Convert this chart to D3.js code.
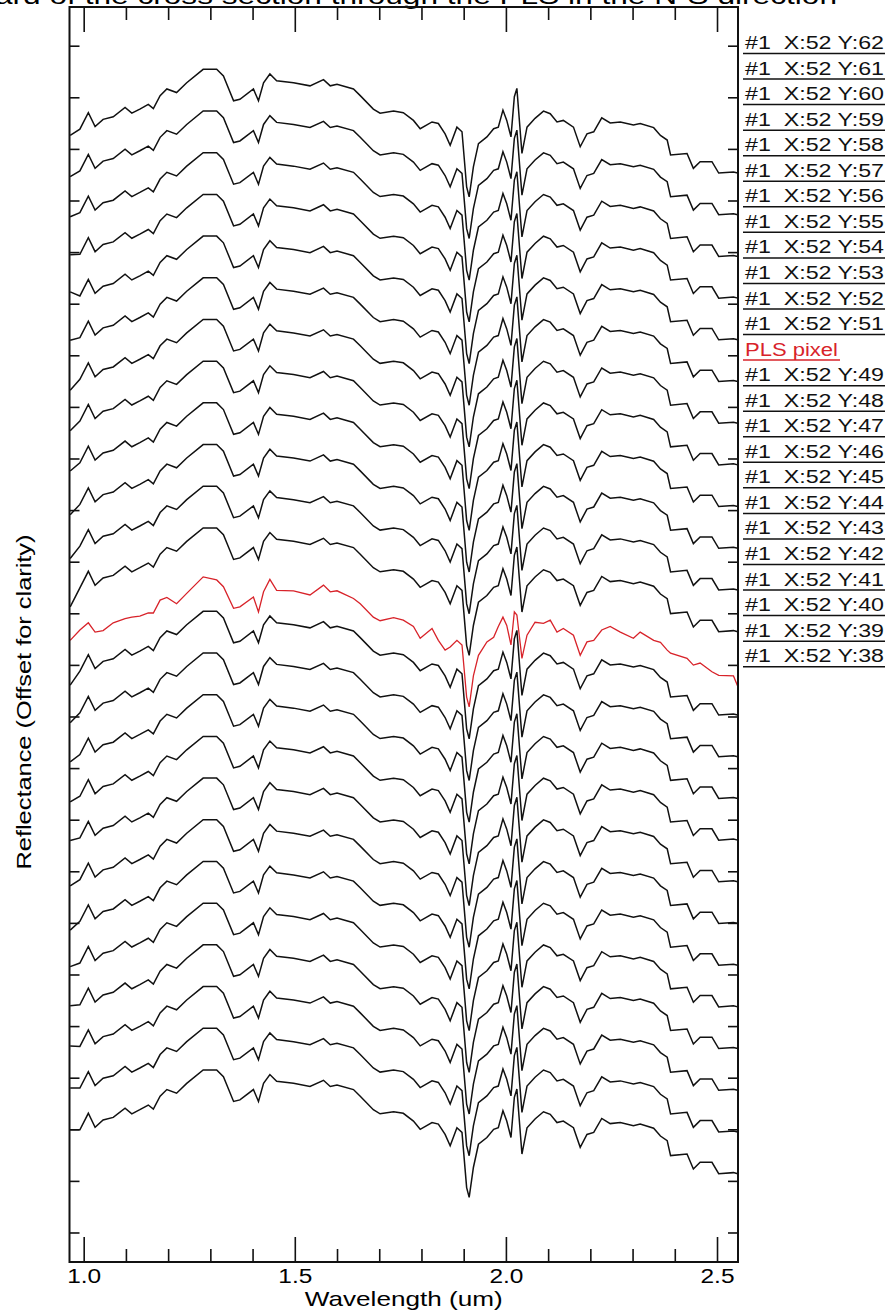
<!DOCTYPE html>
<html>
<head>
<meta charset="utf-8">
<script src="https://cdn.jsdelivr.net/npm/d3@7"></script>
<style>
  body { margin: 0; background: #fff; }
  text { font-family: "Liberation Sans", Arial, sans-serif; fill: #000; }
</style>
</head>
<body>
<div id="viz"></div>
<script>
// band centres (um) of the plotted spectra
var bands = [0.968, 0.991, 1.011, 1.027, 1.046, 1.070, 1.098, 1.114, 1.133, 1.153,
  1.165, 1.181, 1.197, 1.220, 1.244, 1.283, 1.315, 1.331, 1.355, 1.370,
  1.402, 1.414, 1.426, 1.441, 1.457, 1.497, 1.536, 1.568, 1.584, 1.600,
  1.639, 1.655, 1.686, 1.702, 1.734, 1.757, 1.781, 1.797, 1.825, 1.840,
  1.856, 1.868, 1.884, 1.896, 1.907, 1.913, 1.923, 1.935, 1.955, 1.971,
  1.982, 1.993, 2.002, 2.012, 2.020, 2.026, 2.038, 2.050, 2.069, 2.089,
  2.105, 2.121, 2.136, 2.160, 2.176, 2.192, 2.208, 2.227, 2.247, 2.271,
  2.302, 2.318, 2.350, 2.366, 2.382, 2.390, 2.429, 2.444, 2.460, 2.488,
  2.504, 2.539, 2.549];

// reflectance of the neighbouring pixels (before offset)
var baseSpectrum = [0.286, 0.299, 0.331, 0.304, 0.318, 0.323, 0.341, 0.330, 0.338, 0.347,
  0.339, 0.364, 0.377, 0.370, 0.389, 0.415, 0.415, 0.402, 0.354, 0.357,
  0.377, 0.354, 0.389, 0.406, 0.393, 0.389, 0.383, 0.395, 0.383, 0.386,
  0.377, 0.364, 0.338, 0.330, 0.334, 0.331, 0.316, 0.300, 0.313, 0.310,
  0.290, 0.268, 0.303, 0.294, 0.187, 0.168, 0.226, 0.271, 0.284, 0.300,
  0.303, 0.336, 0.316, 0.284, 0.362, 0.378, 0.252, 0.303, 0.320, 0.334,
  0.329, 0.313, 0.316, 0.303, 0.265, 0.290, 0.294, 0.321, 0.311, 0.313,
  0.307, 0.310, 0.302, 0.287, 0.278, 0.249, 0.252, 0.223, 0.236, 0.236,
  0.214, 0.216, 0.214];

// reflectance of the PLS pixel (before offset)
var plsSpectrum = [0.278, 0.298, 0.312, 0.294, 0.297, 0.312, 0.320, 0.323, 0.325, 0.331,
  0.331, 0.356, 0.361, 0.349, 0.369, 0.401, 0.395, 0.382, 0.340, 0.343,
  0.362, 0.333, 0.372, 0.396, 0.375, 0.374, 0.366, 0.385, 0.372, 0.374,
  0.359, 0.349, 0.323, 0.316, 0.322, 0.317, 0.305, 0.282, 0.301, 0.278,
  0.259, 0.265, 0.278, 0.269, 0.168, 0.149, 0.209, 0.249, 0.275, 0.284,
  0.305, 0.323, 0.307, 0.269, 0.333, 0.327, 0.243, 0.288, 0.313, 0.311,
  0.317, 0.294, 0.301, 0.288, 0.249, 0.275, 0.278, 0.298, 0.305, 0.294,
  0.282, 0.294, 0.278, 0.274, 0.259, 0.253, 0.243, 0.230, 0.234, 0.217,
  0.210, 0.209, 0.189];

// legend labels, top to bottom (same order as the stacked curves)
var pixelLabels = ["#1  X:52 Y:62", "#1  X:52 Y:61", "#1  X:52 Y:60", "#1  X:52 Y:59",
  "#1  X:52 Y:58", "#1  X:52 Y:57", "#1  X:52 Y:56", "#1  X:52 Y:55", "#1  X:52 Y:54",
  "#1  X:52 Y:53", "#1  X:52 Y:52", "#1  X:52 Y:51", "PLS pixel", "#1  X:52 Y:49",
  "#1  X:52 Y:48", "#1  X:52 Y:47", "#1  X:52 Y:46", "#1  X:52 Y:45", "#1  X:52 Y:44",
  "#1  X:52 Y:43", "#1  X:52 Y:42", "#1  X:52 Y:41", "#1  X:52 Y:40", "#1  X:52 Y:39",
  "#1  X:52 Y:38"];

// first band value of each black curve (they differ a bit at the left edge)
var firstBand = [0.287, 0.288, 0.291, 0.298, 0.307, 0.294, 0.278, 0.280, 0.283, 0.279,
  0.275, 0.262, null, 0.272, 0.280, 0.285, 0.288, 0.294, 0.287, 0.282,
  0.292, 0.297, 0.300, 0.299, 0.299];

var plsIndex = 12;
var offsetStep = 0.0808;

var majorTicks = [1.0, 1.5, 2.0, 2.5];
var minorTicks = [1.1, 1.2, 1.3, 1.4, 1.6, 1.7, 1.8, 1.9, 2.1, 2.2, 2.3, 2.4];
var yTicks = d3.range(1, 25).map(function(k){ return k / 10; });

var width = 887, height = 1314;
var plot = {left: 69.5, right: 738, top: 7, bottom: 1262};

var svg = d3.select("#viz").append("svg")
  .attr("width", width)
  .attr("height", height);

var x = d3.scaleLinear()
  .domain([0.9664, 2.5497])
  .range([plot.left, plot.right]);

var y = d3.scaleLinear()
  .domain([0.0428, 2.475])
  .range([plot.bottom, plot.top]);

// stack the spectra, top curve gets the largest offset
var curves = pixelLabels.map(function(label, i){
  var offset = (pixelLabels.length - 1 - i) * offsetStep;
  var pls = i === plsIndex;
  var src = pls ? plsSpectrum : baseSpectrum;
  return {
    label: label,
    pls: pls,
    values: bands.map(function(w, j){
      var r = (j === 0 && !pls) ? firstBand[i] : src[j];
      return {w: w, r: r + offset};
    })
  };
});

// title, clipped at the top of the page
svg.append("text")
  .attr("x", -5)
  .attr("y", 4)
  .attr("textLength", 842)
  .attr("lengthAdjust", "spacingAndGlyphs")
  .style("font-size", "24px")
  .text("ard of the cross section through the PLS in the N-S direction");

svg.append("clipPath").attr("id", "clip")
  .append("rect")
  .attr("x", plot.left).attr("y", plot.top)
  .attr("width", plot.right - plot.left)
  .attr("height", plot.bottom - plot.top);

var line = d3.line()
  .x(function(d){ return x(d.w); })
  .y(function(d){ return y(d.r); });

var order = curves.filter(function(c){ return !c.pls; })
  .concat(curves.filter(function(c){ return c.pls; }));

svg.append("g").attr("clip-path", "url(#clip)")
  .selectAll("path")
  .data(order)
  .enter()
.append("path")
  .attr("d", function(d){ return line(d.values); })
  .attr("fill", "none")
  .attr("stroke", function(d){ return d.pls ? "#d8232a" : "#111"; })
  .attr("stroke-width", function(d){ return d.pls ? 1.3 : 1.5; })
  .attr("stroke-linejoin", "miter");

// axes, all ticks point inward
function clean(g){
  g.select(".domain").remove();
  g.selectAll("line").attr("stroke", "#111").attr("stroke-width", 1.6);
}

svg.append("g")
  .attr("transform", "translate(0," + plot.bottom + ")")
  .call(d3.axisBottom(x).tickValues(majorTicks).tickSize(-25).tickPadding(7)
    .tickFormat(d3.format(".1f")))
  .call(clean)
  .selectAll("text")
  .style("font-size", "20px")
  .attr("textLength", 34)
  .attr("lengthAdjust", "spacingAndGlyphs");

svg.append("g")
  .attr("transform", "translate(0," + plot.bottom + ")")
  .call(d3.axisBottom(x).tickValues(minorTicks).tickSize(-13).tickFormat(""))
  .call(clean);

svg.append("g")
  .attr("transform", "translate(0," + plot.top + ")")
  .call(d3.axisTop(x).tickValues(majorTicks).tickSize(-25).tickFormat(""))
  .call(clean);

svg.append("g")
  .attr("transform", "translate(0," + plot.top + ")")
  .call(d3.axisTop(x).tickValues(minorTicks).tickSize(-13).tickFormat(""))
  .call(clean);

svg.append("g")
  .attr("transform", "translate(" + plot.left + ",0)")
  .call(d3.axisLeft(y).tickValues(yTicks).tickSize(-10).tickFormat(""))
  .call(clean);

svg.append("g")
  .attr("transform", "translate(" + plot.right + ",0)")
  .call(d3.axisRight(y).tickValues(yTicks).tickSize(-10).tickFormat(""))
  .call(clean);

svg.append("rect")
  .attr("x", plot.left).attr("y", plot.top)
  .attr("width", plot.right - plot.left)
  .attr("height", plot.bottom - plot.top)
  .attr("fill", "none")
  .attr("stroke", "#111")
  .attr("stroke-width", 2);

svg.append("text")
  .attr("x", (plot.left + plot.right) / 2)
  .attr("y", 1306)
  .attr("text-anchor", "middle")
  .attr("textLength", 198)
  .attr("lengthAdjust", "spacingAndGlyphs")
  .style("font-size", "21px")
  .text("Wavelength (um)");

svg.append("text")
  .attr("transform", "translate(31,702) rotate(-90)")
  .attr("text-anchor", "middle")
  .attr("textLength", 335)
  .attr("lengthAdjust", "spacingAndGlyphs")
  .style("font-size", "20px")
  .text("Reflectance (Offset for clarity)");

// legend
var legend = svg.append("g")
  .selectAll("g")
  .data(curves)
  .enter()
.append("g")
  .attr("transform", function(d, i){ return "translate(743," + (49 + i * 25.55) + ")"; });

legend.append("text")
  .attr("x", 2)
  .attr("y", 0)
  .attr("textLength", function(d){ return d.pls ? 93 : 139; })
  .attr("lengthAdjust", "spacingAndGlyphs")
  .style("white-space", "pre")
  .style("font-size", "18px")
  .style("fill", function(d){ return d.pls ? "#d8232a" : "#111"; })
  .text(function(d){ return d.label; });

legend.append("line")
  .attr("x1", 0)
  .attr("x2", function(d){ return d.pls ? 97 : 142; })
  .attr("y1", 4.5)
  .attr("y2", 4.5)
  .attr("stroke", function(d){ return d.pls ? "#d8232a" : "#111"; })
  .attr("stroke-width", 1.5);
</script>
</body>
</html>
